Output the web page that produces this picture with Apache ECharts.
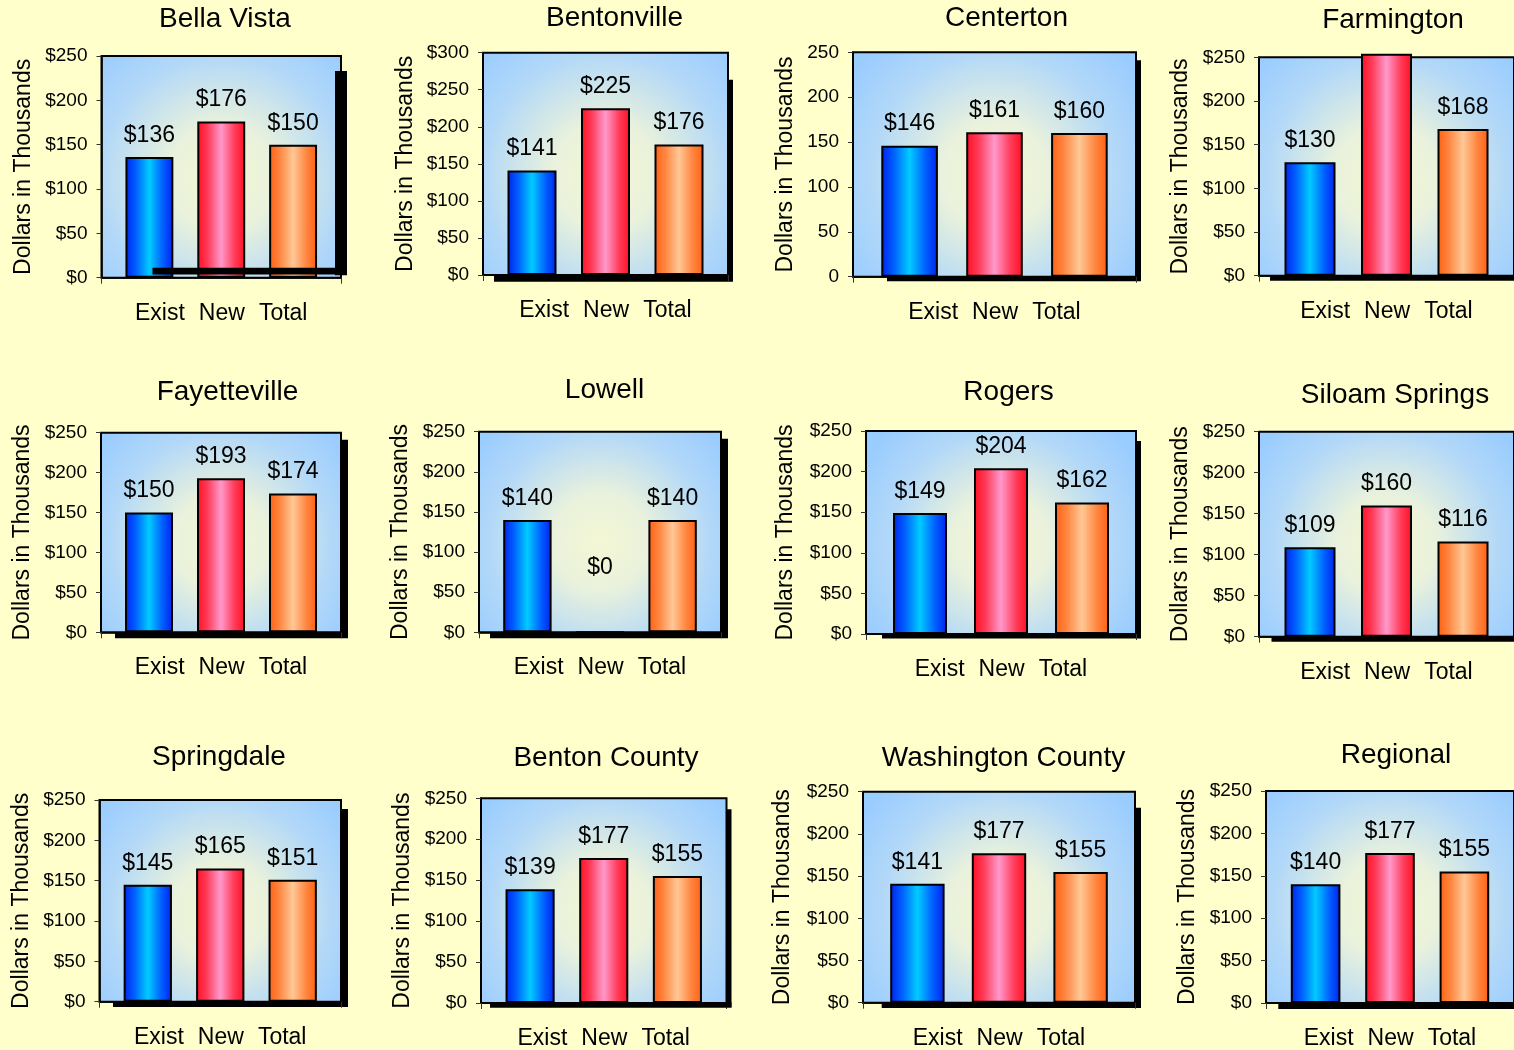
<!DOCTYPE html>
<html><head><meta charset="utf-8">
<script src="https://cdn.jsdelivr.net/npm/echarts@6/dist/echarts.min.js"></script>
<style>html,body{margin:0;padding:0;background:#ffffcc;}#c{width:1514px;height:1050px;}</style>
</head><body><div id="c"></div>
<script>
// ---------- data ----------
const cities = ['Bella Vista','Bentonville','Centerton','Farmington','Fayetteville','Lowell','Rogers','Siloam Springs','Springdale','Benton County','Washington County','Regional'];
const seriesNames = ['Exist','New','Total'];
const existValues = [136,141,146,130,150,140,149,109,145,139,141,140];
const newValues   = [176,225,161,254,193,0,204,160,165,177,177,177];
const totalValues = [150,176,160,168,174,140,162,116,151,155,155,155];
const axisMax = [250,300,250,250,250,250,250,250,250,250,250,250];
const tickStep = 50;
const tickPrefix = ['$','$','','$','$','$','$','$','$','$','$','$'];
const yAxisTitle = 'Dollars in Thousands';
// Farmington "New" label not shown (bar runs off the top)
const hiddenLabel = {'3-1': true};
// Lowell "$0" label sits higher in the original
const labelOffset = {'5-1': [0, -42]};

// ---------- layout / style ----------
const FONT = "'Liberation Sans', Arial, Helvetica, sans-serif";
const layout = [
  {L:101.5,T:56,  R:341,   B:277.7, tx:225,   ty:19,    gap:66.5, sh:p=>[[p.R-6,p.T+15,p.R+6,p.B-2.5,1],[p.L+51,p.B-10,p.R+6,p.B-3.3,1]]},
  {L:483,  T:52.7,R:728,   B:275,   tx:614.5, ty:18,    gap:66,   sh:p=>[[p.L+11,p.T+27,p.R+5,p.B+6.7,0]]},
  {L:853,  T:52.3,R:1136,  B:276.7, tx:1006.5,ty:18,    gap:56,   sh:p=>[[p.L+34,p.T+8,p.R+5,p.B+4.5,0]]},
  {L:1259, T:57.3,R:1521,  B:275.7, tx:1393,  ty:19.8,  gap:67,   sh:p=>[[p.L+11,p.T+10,p.R+6,p.B+5,0]]},
  {L:101,  T:432.7,R:341,  B:632.3, tx:227.5, ty:392.3, gap:67,   sh:p=>[[p.L+14,p.T+7,p.R+7,p.B+6,0]]},
  {L:479,  T:431.7,R:721,  B:632.3, tx:604.5, ty:390.7, gap:67,   sh:p=>[[p.L+11,p.T+7,p.R+7,p.B+6,0]]},
  {L:866,  T:431, R:1136,  B:634,   tx:1008.5,ty:392.3, gap:69,   sh:p=>[[p.L+16,p.T+10,p.R+5,p.B+4.5,0]]},
  {L:1259, T:431.7,R:1519, B:636.7, tx:1395,  ty:395.7, gap:67,   sh:p=>[[p.L+12.5,p.T+10,p.R+6,p.B+5,0]]},
  {L:99.5, T:800, R:341,   B:1001.7,tx:219,   ty:757.3, gap:66.5, sh:p=>[[p.L+13.5,p.T+9,p.R+7,p.B+5.3,0]]},
  {L:481,  T:798.3,R:726.5,B:1006,  tx:606,   ty:758.7, gap:67,   sh:p=>[[p.L+9,p.T+11,p.R+5,p.B+1.5,0],[p.L+9,p.B-4,p.R+5,p.B+1.5,1]]},
  {L:863,  T:791.7,R:1135, B:1002.7,tx:1003.5,ty:758.7, gap:69,   sh:p=>[[p.L+18.7,p.T+16,p.R+6,p.B+5.4,0]]},
  {L:1266, T:791, R:1514,  B:1003.3,tx:1396,  ty:755.7, gap:67,   sh:p=>[[p.L+12.3,p.T+10,p.R+6,p.B+5.7,0]]}
];

function hGrad(edge, mid, center){
  return new echarts.graphic.LinearGradient(0,0,1,0,[
    {offset:0,color:edge},{offset:0.22,color:mid},{offset:0.5,color:center},{offset:0.78,color:mid},{offset:1,color:edge}]);
}
const barColors = [
  () => hGrad('#0022ee','#0060ff','#00ccff'),
  () => hGrad('#ff0f22','#ff3c5a','#ff99cc'),
  () => hGrad('#ff6014','#ff8640','#ffc896')
];
function bgGrad(){
  return new echarts.graphic.RadialGradient(0.5,0.55,0.78,[
    {offset:0,color:'#f4f7d4'},{offset:0.3,color:'#eaf2dc'},{offset:0.7,color:'#b2d8f8'},{offset:1,color:'#99ccff'}]);
}

const valuesBySeries = [existValues, newValues, totalValues];
const grids=[], xAxes=[], yAxes=[], series=[], graphics=[];

cities.forEach((city,i)=>{
  const p = layout[i];
  grids.push({left:p.L, top:p.T, width:p.R-p.L, height:p.B-p.T, show:true,
    borderColor:'#000', borderWidth:2, backgroundColor:bgGrad()});
  xAxes.push({type:'category', gridIndex:i, data:[seriesNames.join(' ')],
    axisLine:{show:true,lineStyle:{color:'#000',width:1.5}},
    axisTick:{show:true,length:6,lineStyle:{color:'#333'}},
    splitLine:{show:false},
    axisLabel:{margin:24, color:'#000', fontFamily:FONT,
      formatter:()=>'{e|'+seriesNames[0]+'}{n|'+seriesNames[1]+'}{t|'+seriesNames[2]+'}',
      rich:{e:{fontSize:23,fontFamily:FONT,color:'#000',lineHeight:23},
            n:{fontSize:23,fontFamily:FONT,color:'#000',lineHeight:23,padding:[0,14,0,14]},
            t:{fontSize:23,fontFamily:FONT,color:'#000',lineHeight:23}}}});
  yAxes.push({type:'value', gridIndex:i, min:0, max:axisMax[i], interval:tickStep,
    axisLine:{show:true,lineStyle:{color:'#000',width:1.5}},
    axisTick:{show:true,length:5,lineStyle:{color:'#333'}},
    splitLine:{show:false},
    axisLabel:{margin:14,fontSize:19,color:'#000',fontFamily:FONT,formatter:v=>tickPrefix[i]+v},
    name:yAxisTitle, nameLocation:'middle', nameGap:p.gap, nameRotate:90,
    nameTextStyle:{fontSize:23,color:'#000',fontFamily:FONT}});
  seriesNames.forEach((sn,k)=>{
    const key=i+'-'+k;
    const item={value:valuesBySeries[k][i]};
    if(hiddenLabel[key]) item.label={show:false};
    if(labelOffset[key]) item.label={offset:labelOffset[key]};
    series.push({type:'bar', name:sn, xAxisIndex:i, yAxisIndex:i, data:[item],
      barGap:'50%', barCategoryGap:'20%', clip:false,
      itemStyle:{color:barColors[k](), borderColor:'#000', borderWidth:2},
      label:{show:true, position:'top', distance:10, fontSize:23, color:'#000', fontFamily:FONT,
        formatter:q=>'$'+q.value}});
  });
  graphics.push({type:'text', x:p.tx, y:p.ty, silent:true,
    style:{text:city, fontSize:28, fontFamily:FONT, fill:'#000', align:'center', verticalAlign:'middle'}});
  p.sh(p).forEach(r=>{
    graphics.push({type:'rect', silent:true, z: r[4]?10:-1,
      shape:{x:r[0], y:r[1], width:r[2]-r[0], height:r[3]-r[1]}, style:{fill:'#000'}});
  });
});

const chart = echarts.init(document.getElementById('c'), null, {renderer:'canvas'});
chart.setOption({
  backgroundColor:'#ffffcc', animation:false,
  grid:grids, xAxis:xAxes, yAxis:yAxes, series:series, graphic:graphics
});
</script></body></html>
